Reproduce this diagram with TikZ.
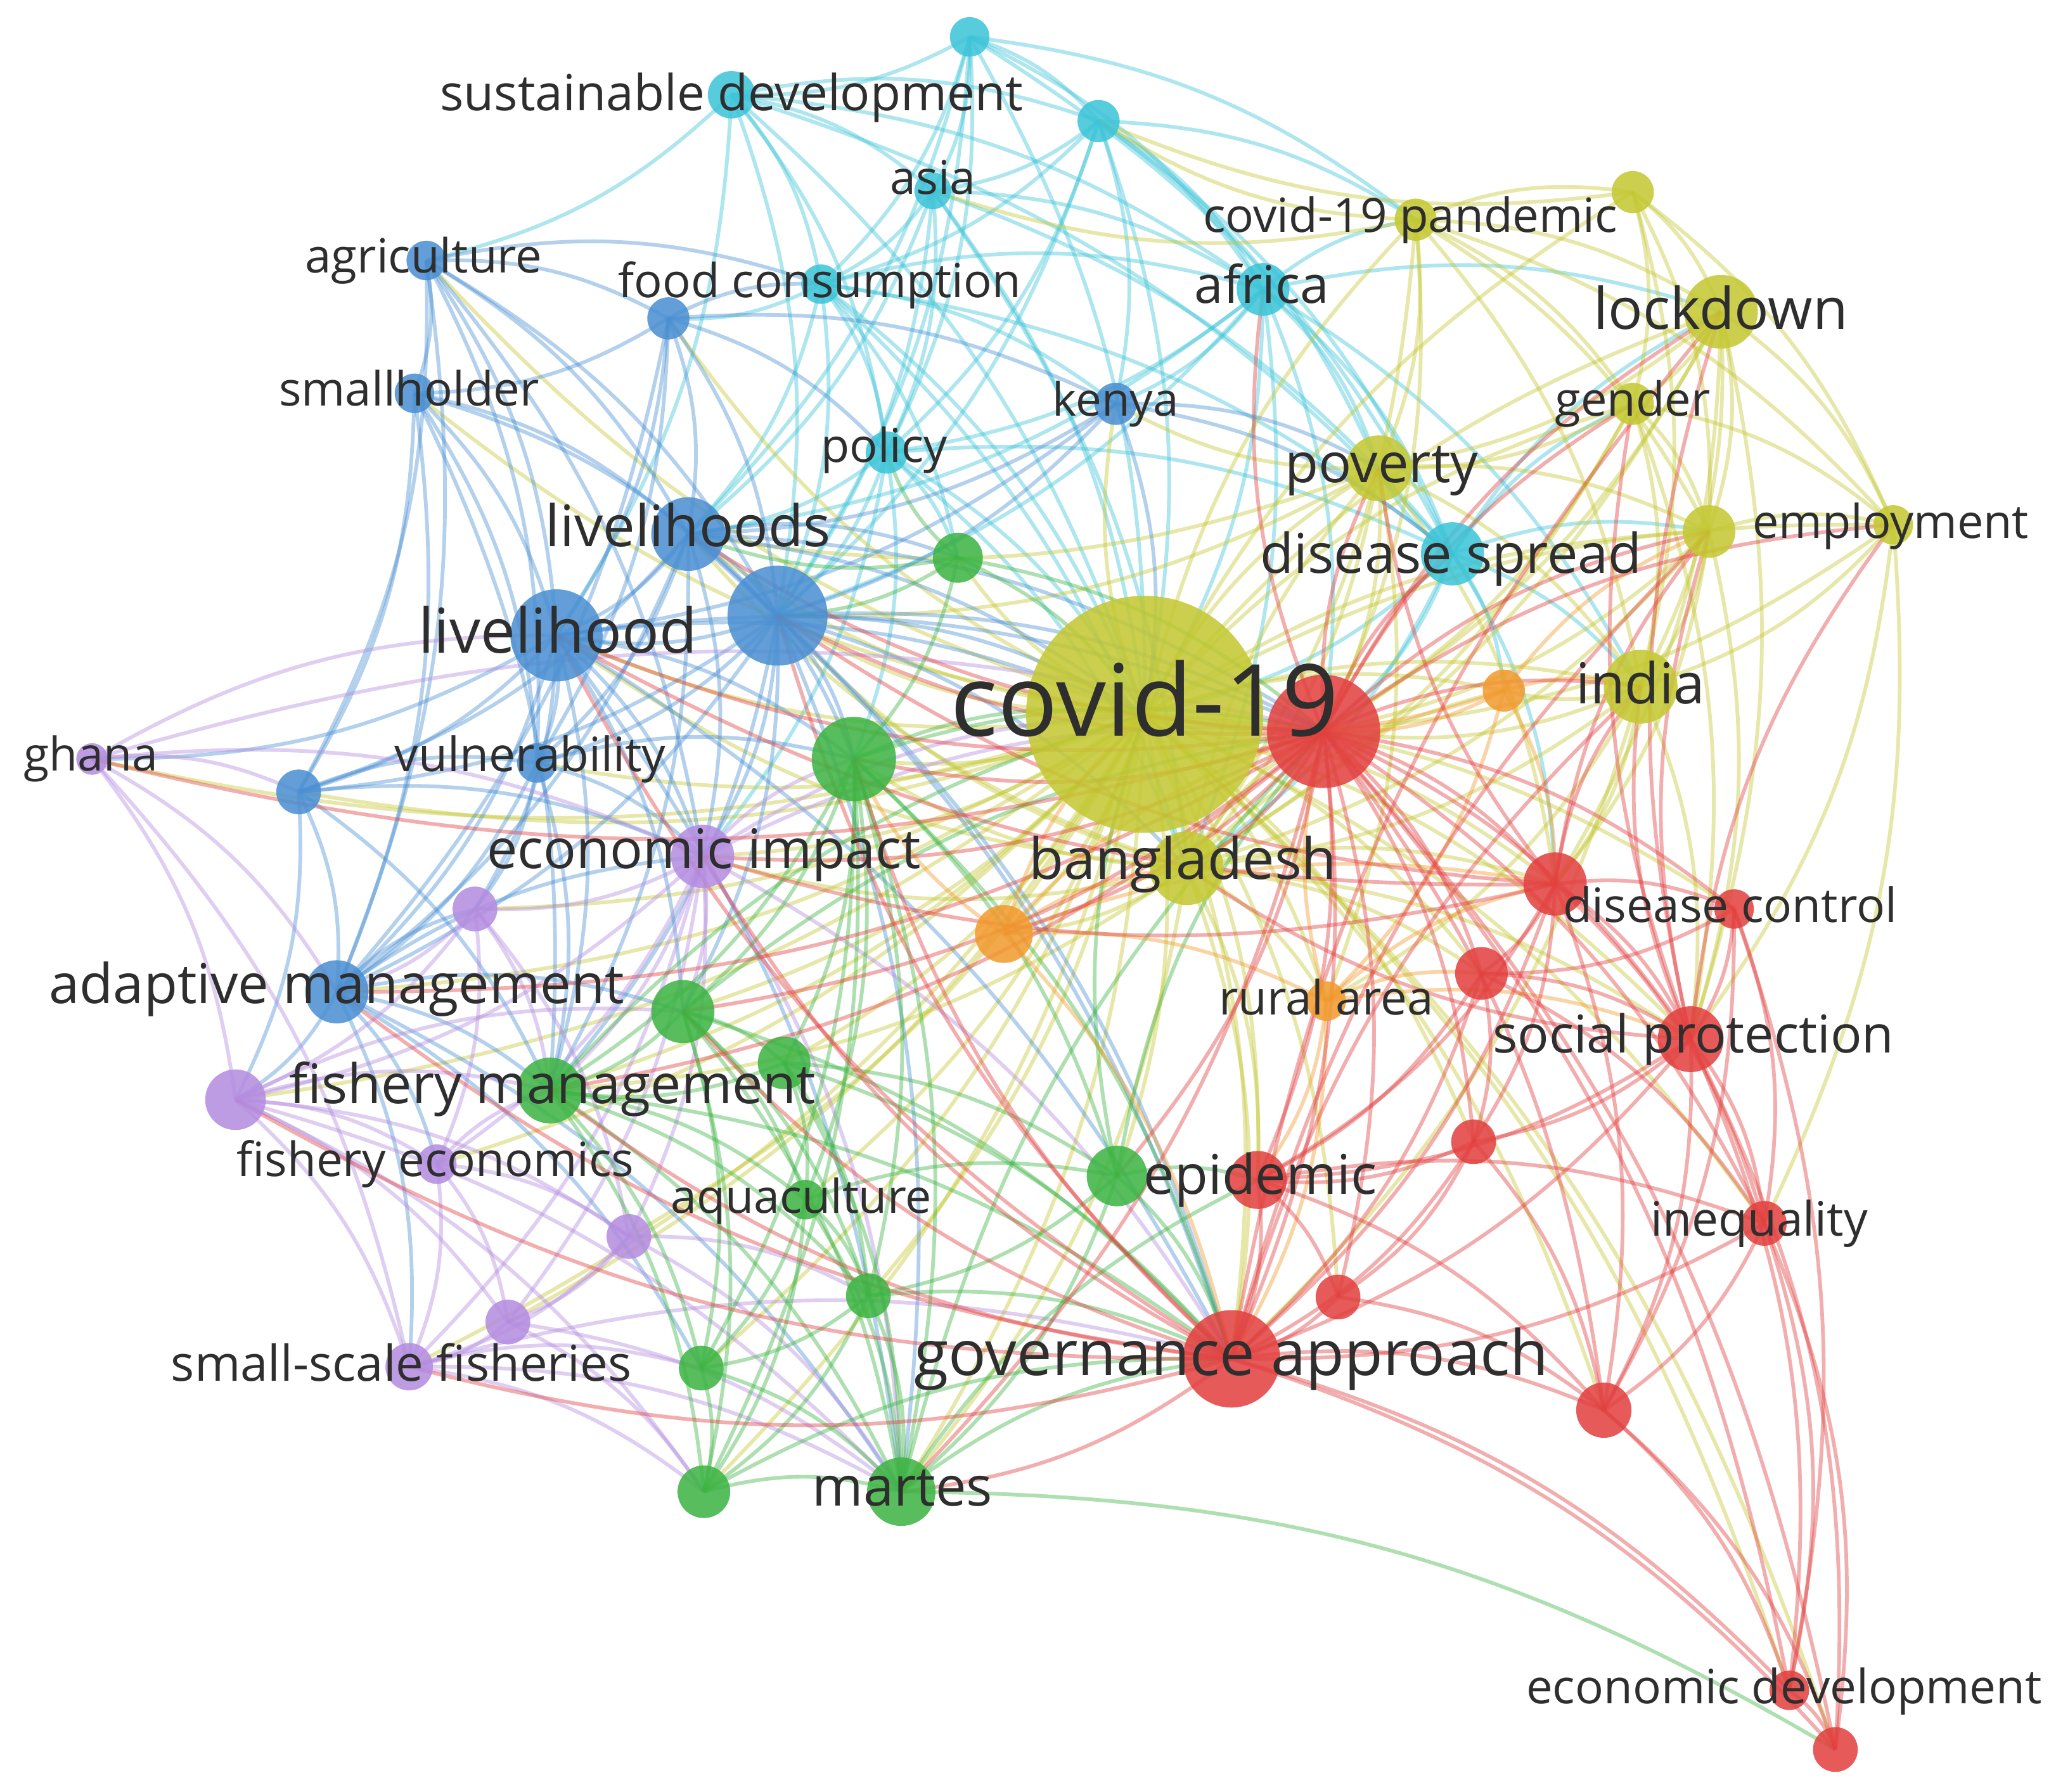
\documentclass[tikz,border=0pt]{standalone}
\usepackage{fontspec}
\setmainfont{Open Sans}
\pgfdeclarelayer{edgelayer}
\pgfdeclarelayer{labellayer}
\pgfsetlayers{edgelayer,main,labellayer}
\definecolor{vcyan}{HTML}{3CC4D8}
\definecolor{vblue}{HTML}{4A8FD2}
\definecolor{vyellow}{HTML}{C4C832}
\definecolor{vpurple}{HTML}{B48CE0}
\definecolor{vgreen}{HTML}{3DB443}
\definecolor{vorange}{HTML}{F29A2E}
\definecolor{vred}{HTML}{E2403F}
\newdimen\vu \vu=0.01cm
\tikzset{
  vnode/.style={circle, inner sep=0pt, draw=none, fill opacity=0.86},
  lbl/.style={inner sep=0pt, text=black!82},
  lnk/.style={line width=0.8pt, draw opacity=0.42, bend left=15},
}
\newcommand\vn[5]{\node[vnode, fill=#4, minimum size={#5*0.02cm}] (#1) at (#2,#3) {};}
\newcommand\vl[5]{\node[lbl] (#1) at (#2,#3) {\resizebox{#4\vu}{!}{\vphantom{Ag}#5}};}
\newcommand\links[3]{\foreach \b in {#3}{\draw[lnk, draw=#1] (#2.center) to (\b.center);}}
\begin{document}
\begin{tikzpicture}[x=0.01cm, y=-0.01cm]
\useasboundingbox (0,0) rectangle (1568,1362);
% ---------- nodes ----------
\vn{cov}{870}{543}{vyellow}{90}
\vn{rc}{1006}{556}{vred}{43}
% cyan
\vn{c1}{737}{28}{vcyan}{15}
\vn{sd}{556}{72}{vcyan}{18}
\vn{c3}{835}{92}{vcyan}{16}
\vn{asia}{709}{145}{vcyan}{14}
\vn{fc}{624}{216}{vcyan}{15}
\vn{afr}{960}{220}{vcyan}{20}
\vn{pol}{674}{344}{vcyan}{16}
\vn{dsp}{1104}{421}{vcyan}{24}
% yellow
\vn{cp}{1076}{167}{vyellow}{16}
\vn{y2}{1241}{146}{vyellow}{16}
\vn{lock}{1308}{237}{vyellow}{28}
\vn{gen}{1241}{307}{vyellow}{16}
\vn{pov}{1048}{356}{vyellow}{25}
\vn{y3}{1299}{404}{vyellow}{20}
\vn{emp}{1439}{399}{vyellow}{15}
\vn{ind}{1247}{522}{vyellow}{28}
\vn{ban}{902}{660}{vyellow}{28}
% blue
\vn{agr}{324}{198}{vblue}{15}
\vn{b2}{508}{242}{vblue}{16}
\vn{sh}{315}{299}{vblue}{15}
\vn{ken}{848}{307}{vblue}{16}
\vn{lhs}{523}{406}{vblue}{28}
\vn{bb}{591}{468}{vblue}{38}
\vn{lh}{423}{483}{vblue}{35}
\vn{b3}{227}{602}{vblue}{17}
\vn{vul}{408}{580}{vblue}{15}
\vn{am}{256}{754}{vblue}{24}
% purple
\vn{gh}{70}{577}{vpurple}{12}
\vn{ei}{534}{651}{vpurple}{24}
\vn{p2}{361}{691}{vpurple}{17}
\vn{p3}{179}{836}{vpurple}{23}
\vn{fe}{332}{885}{vpurple}{15}
\vn{p4}{478}{940}{vpurple}{17}
\vn{p5}{386}{1005}{vpurple}{17}
\vn{ssf}{311}{1039}{vpurple}{18}
% green
\vn{g1}{728}{424}{vgreen}{19}
\vn{g2}{649}{577}{vgreen}{32}
\vn{g3}{519}{769}{vgreen}{24}
\vn{g4}{596}{808}{vgreen}{20}
\vn{fm}{418}{829}{vgreen}{25}
\vn{aq}{612}{912}{vgreen}{15}
\vn{gep}{849}{894}{vgreen}{23}
\vn{g5}{660}{985}{vgreen}{17}
\vn{g6}{533}{1040}{vgreen}{17}
\vn{g7}{535}{1134}{vgreen}{20}
\vn{mar}{685}{1134}{vgreen}{26}
% orange
\vn{o1}{1143}{525}{vorange}{16}
\vn{o2}{763}{710}{vorange}{22}
\vn{ra}{1008}{761}{vorange}{15}
% red
\vn{dc}{1182}{672}{vred}{24}
\vn{r2}{1318}{691}{vred}{15}
\vn{r3}{1126}{740}{vred}{20}
\vn{sp}{1285}{790}{vred}{25}
\vn{r4}{1120}{868}{vred}{17}
\vn{rep}{956}{897}{vred}{22}
\vn{ineq}{1341}{930}{vred}{17}
\vn{r5}{1017}{986}{vred}{17}
\vn{ga}{936}{1033}{vred}{37}
\vn{r6}{1219}{1072}{vred}{21}
\vn{ed}{1360}{1285}{vred}{15}
\vn{r7}{1395}{1330}{vred}{17}
% ---------- edges ----------
\begin{pgfonlayer}{edgelayer}
\fill[white] (0,0) rectangle (1568,1362);
% cyan
\links{vcyan}{c1}{sd,c3,asia,fc,afr,pol,dsp,cov,lhs,bb,cp}
\links{vcyan}{sd}{c3,asia,fc,afr,pol,agr,cov,bb,dsp,lh}
\links{vcyan}{c3}{asia,fc,afr,pol,dsp,cov,ken,cp,pov,bb}
\links{vcyan}{asia}{fc,afr,pol,cov,dsp,ban,bb,lhs}
\links{vcyan}{fc}{afr,pol,cov,dsp,b2,bb,lhs,ban,g1,ken}
\links{vcyan}{afr}{pol,dsp,cov,cp,lock,pov,ken,bb,ind,rc,ban,lhs}
\links{vcyan}{pol}{dsp,cov,bb,lhs,g1,g2,ei,ban}
\links{vcyan}{dsp}{cov,pov,rc,ind,lock,y3,dc,ban,gen,o1}
% yellow
\links{vyellow}{cov}{cp,y2,lock,gen,pov,y3,emp,ind,ban,lhs,bb,lh,vul,am,ei,g1,g2,g3,fm,aq,gep,mar,ga,rep,sp,dc,r3,r4,ra,o1,o2,ineq,r6,ed,ken,b3,p2,g4,g5,ssf,agr,sh,b2,gh,p3,fe,p4,p5,g6,g7,r2,r5,r7}
\links{vyellow}{cp}{y2,lock,gen,pov,y3,emp,ind,ban,rc,c3,asia}
\links{vyellow}{y2}{lock,gen,y3,emp,ind,c3}
\links{vyellow}{lock}{gen,pov,y3,emp,ind,ban,rc,dc,sp}
\links{vyellow}{gen}{pov,y3,emp,ind,ban,rc,sp}
\links{vyellow}{pov}{y3,ind,ban,rc,dc,lhs,bb,ra,ken}
\links{vyellow}{y3}{emp,ind,ban,rc,sp,dc}
\links{vyellow}{emp}{ind,rc,sp,ineq}
\links{vyellow}{ind}{ban,rc,dc,sp,ra,o1,ga}
\links{vyellow}{ban}{rc,dc,sp,ra,o2,ga,rep,g2,bb,lh,ei,r3,o1,pov,lhs,fm,mar}
% blue
\links{vblue}{agr}{b2,sh,lhs,bb,lh,b3,vul,am,fc,ei}
\links{vblue}{b2}{sh,lhs,bb,lh,vul,ken,am,fc,pol}
\links{vblue}{sh}{lhs,bb,lh,b3,vul,am,fm}
\links{vblue}{ken}{bb,lhs,cov,pov,dsp,lh}
\links{vblue}{lhs}{bb,lh,vul,b3,am,ei,g2,g1,cov,fm,ga,rc}
\links{vblue}{bb}{lh,vul,b3,am,ei,g2,g3,fm,cov,rc,ga,mar,ban}
\links{vblue}{lh}{vul,b3,am,ei,p2,fm,g2,g3,cov,ga,rc,mar,gh}
\links{vblue}{b3}{vul,am,p3,fm,ei}
\links{vblue}{vul}{am,ei,p2,g2,fm}
\links{vblue}{am}{p3,p2,fm,fe,ei,g3,ssf,mar,g6}
% purple
\links{vpurple}{gh}{p3,am,lh,ei,ssf,b3,rc}
\links{vpurple}{ei}{p2,p3,fe,p4,p5,ssf,g2,g3,fm,cov,rc,mar,ga}
\links{vpurple}{p2}{p3,fe,p4,fm,am}
\links{vpurple}{p3}{fe,p4,p5,ssf,fm,g3,mar,g7}
\links{vpurple}{fe}{p4,p5,ssf,fm}
\links{vpurple}{p4}{p5,ssf,g5,mar}
\links{vpurple}{p5}{ssf,g7,mar}
\links{vpurple}{ssf}{g6,g7,mar,ga}
% green
\links{vgreen}{g1}{g2,lhs,bb,cov,rc,pol}
\links{vgreen}{g2}{g3,g4,fm,aq,gep,g5,g6,g7,mar,cov,rc,ga}
\links{vgreen}{g3}{g4,fm,aq,g5,g6,g7,mar,ga,rc}
\links{vgreen}{g4}{fm,aq,gep,g5,mar,ga}
\links{vgreen}{fm}{aq,g5,g6,g7,mar,ga,cov}
\links{vgreen}{aq}{g5,g6,g7,mar,gep}
\links{vgreen}{gep}{rep,ga,mar,g5,rc,cov}
\links{vgreen}{g5}{g6,g7,mar,ga}
\links{vgreen}{g6}{g7,mar}
\links{vgreen}{g7}{mar,ga}
\links{vgreen}{mar}{ga,rep,rc,r7}
% orange
\links{vorange}{o1}{rc,ind,dc,ra,cov,y3}
\links{vorange}{o2}{rc,ra,ban,cov,ga,dc,g2}
\links{vorange}{ra}{rc,dc,r3,sp,ga,rep}
% red
\links{vred}{rc}{dc,r2,r3,sp,r4,rep,ineq,r5,ga,r6,ed,r7,lh,bb,lhs,g2,ei,am,fm,ban,ind,pov,lock,gen,y3,emp,dsp,afr,o2,gh,g3,mar,gep}
\links{vred}{dc}{r2,r3,sp,r4,ineq,ga,r6,rep,lh,bb,ei,ind,pov,y3}
\links{vred}{r2}{sp,ineq,r6,ed,r3}
\links{vred}{r3}{sp,r4,ga,rep,ineq}
\links{vred}{sp}{r4,ineq,ga,r6,ed,r7,rep,ind,y3,lock,emp,gen,ban}
\links{vred}{r4}{rep,ga,r5,r6}
\links{vred}{rep}{r5,ga,r6,ineq}
\links{vred}{ineq}{ga,r6,ed,r7}
\links{vred}{r5}{ga,r6}
\links{vred}{ga}{r6,ed,r7,mar,fm,am,lh,g3,ei,p3,ssf,g2,bb,ind,lock,y3}
\links{vred}{r6}{ed,r7}
\links{vred}{ed}{r7}
\end{pgfonlayer}
% ---------- labels ----------
\begin{pgfonlayer}{labellayer}
\vl{Lcov}{870}{540}{295}{covid-19}
\vl{Lsd}{556}{74}{443}{sustainable development}
\vl{Lasia}{709}{139}{65}{asia}
\vl{Lagr}{322}{198}{180}{agriculture}
\vl{Lfc}{623}{217}{306}{food consumption}
\vl{Lcp}{1072}{167}{315}{covid-19 pandemic}
\vl{Lafr}{959}{220}{102}{africa}
\vl{Llock}{1308}{239}{193}{lockdown}
\vl{Lsh}{311}{299}{198}{smallholder}
\vl{Lken}{848}{307}{96}{kenya}
\vl{Lgen}{1241}{307}{118}{gender}
\vl{Lpol}{672}{342}{96}{policy}
\vl{Lpov}{1050}{357}{147}{poverty}
\vl{Llhs}{523}{404}{217}{livelihoods}
\vl{Lemp}{1437}{400}{210}{employment}
\vl{Ldsp}{1103}{425}{290}{disease spread}
\vl{Llh}{424}{484}{212}{livelihood}
\vl{Lind}{1247}{524}{98}{india}
\vl{Lgh}{69}{577}{102}{ghana}
\vl{Lvul}{403}{577}{206}{vulnerability}
\vl{Lei}{535}{650}{330}{economic impact}
\vl{Lban}{899}{657}{234}{bangladesh}
\vl{Ldc}{1315}{692}{254}{disease control}
\vl{Lam}{256}{752}{437}{adaptive management}
\vl{Lra}{1008}{762}{163}{rural area}
\vl{Lsp}{1287}{790}{305}{social protection}
\vl{Lfm}{420}{828}{400}{fishery management}
\vl{Lfe}{331}{885}{302}{fishery economics}
\vl{Laq}{609}{913}{198}{aquaculture}
\vl{Lep}{958}{897}{177}{epidemic}
\vl{Lineq}{1337}{930}{165}{inequality}
\vl{Lssf}{305}{1040}{350}{small-scale fisheries}
\vl{Lga}{936}{1033}{482}{governance approach}
\vl{Lmar}{686}{1135}{137}{martes}
\vl{Led}{1356}{1286}{392}{economic development}
\end{pgfonlayer}
\end{tikzpicture}
\end{document}
